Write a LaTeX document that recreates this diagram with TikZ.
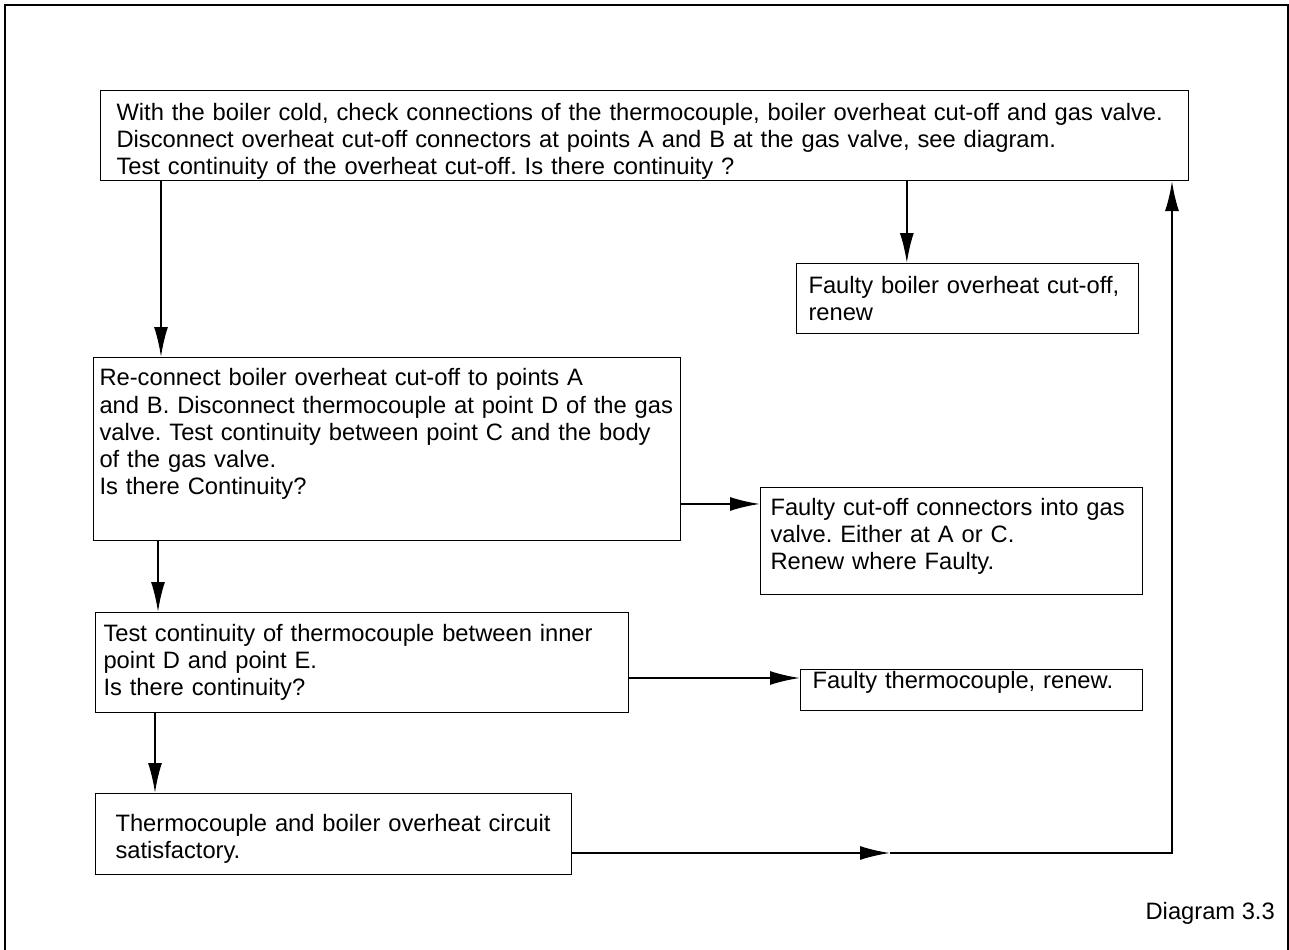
\documentclass[tikz,border=0pt]{standalone}
\usepackage{fontspec}
\setmainfont{Liberation Sans}
\usetikzlibrary{arrows.meta,positioning}
\frenchspacing

\begin{document}
\begin{tikzpicture}[x=.02cm,y=-.02cm,>={Latex[length=.6cm,width=.28cm]},
  box/.style={draw,line width=.6pt,anchor=north west,align=left,inner ysep=0pt,
    font=\fontsize{13.5pt}{15.4pt}\selectfont},
  flow/.style={->,line width=1.2pt}]
  \useasboundingbox (0,0) rectangle (1289,950);
  \draw[line width=.8pt] (5,950) -- (5,5) -- (1288,5) -- (1288,950);
  % question boxes on the left
  \node[box,text width=21.12cm,inner xsep=.32cm,minimum height=1.8cm] (top) at (100,90)
    {\rule{0pt}{.58cm}\mbox{With the boiler cold, check connections of the thermocouple, boiler overheat cut-off and gas valve.}\\
     Disconnect overheat cut-off connectors at points A and B at the gas valve, see diagram.\\
     Test continuity of the overheat cut-off. Is there continuity ?};
  \node[box,text width=11.5cm,inner xsep=.12cm,minimum height=3.66cm] (recon) at (93,357)
    {Re-connect boiler overheat cut-off to points A\\
     \mbox{and B. Disconnect thermocouple at point D of the gas}\\
     \mbox{valve. Test continuity between point C and the body}\\
     of the gas valve.\\
     Is there Continuity?\rule[-.7cm]{0pt}{0pt}};
  \node[box,text width=10.34cm,inner xsep=.16cm,minimum height=2cm] (cont) at (95,612)
    {Test continuity of thermocouple between inner\\
     point D and point E.\\
     Is there continuity?};
  \node[box,text width=8.72cm,inner xsep=.4cm,minimum height=1.62cm] (sat) at (95,793)
    {\rule{0pt}{.55cm}\mbox{Thermocouple and boiler overheat circuit}\\
     satisfactory.};
  % fault boxes on the right
  \node[box,text width=6.36cm,inner xsep=.24cm,minimum height=1.4cm] (cutoff) at (796,263)
    {Faulty boiler overheat cut-off,\\ renew};
  \node[box,text width=7.24cm,inner xsep=.2cm,minimum height=2.14cm] (conn) at (760,487)
    {\mbox{Faulty cut-off connectors into gas}\\
     valve. Either at A or C.\\
     Renew where Faulty.\rule[-.3cm]{0pt}{0pt}};
  \node[box,text width=6.36cm,inner xsep=.24cm,minimum height=.82cm] (thermo) at (800,669)
    {Faulty thermocouple, renew.\rule[-.4cm]{0pt}{0pt}};
  \node[anchor=east,font=\fontsize{13.5pt}{15.4pt}\selectfont] (label) at (1281,913) {Diagram 3.3};
  % connectors
  \draw[flow] ([xshift=1.22cm]top.south west) coordinate (a) -- (a |- recon.north);
  \draw[flow] ([xshift=16.14cm]top.south west) coordinate (b) -- (b |- cutoff.north);
  \draw[flow] ([yshift=-2.94cm]recon.north east) coordinate (c) -- (c -| conn.west);
  \draw[flow] ([xshift=1.3cm]recon.south west) coordinate (d) -- (d |- cont.north);
  \draw[flow] ([yshift=-1.32cm]cont.north east) coordinate (e) -- (e -| thermo.west);
  \draw[flow] ([xshift=1.2cm]cont.south west) coordinate (f) -- (f |- sat.north);
  \coordinate (mid) at (890,853);
  \coordinate (corner) at (1172,853);
  \draw[flow] (sat.east |- mid) -- (mid);
  \draw[flow] (mid) -- (corner) -- (corner |- top.south);
\end{tikzpicture}
\end{document}
